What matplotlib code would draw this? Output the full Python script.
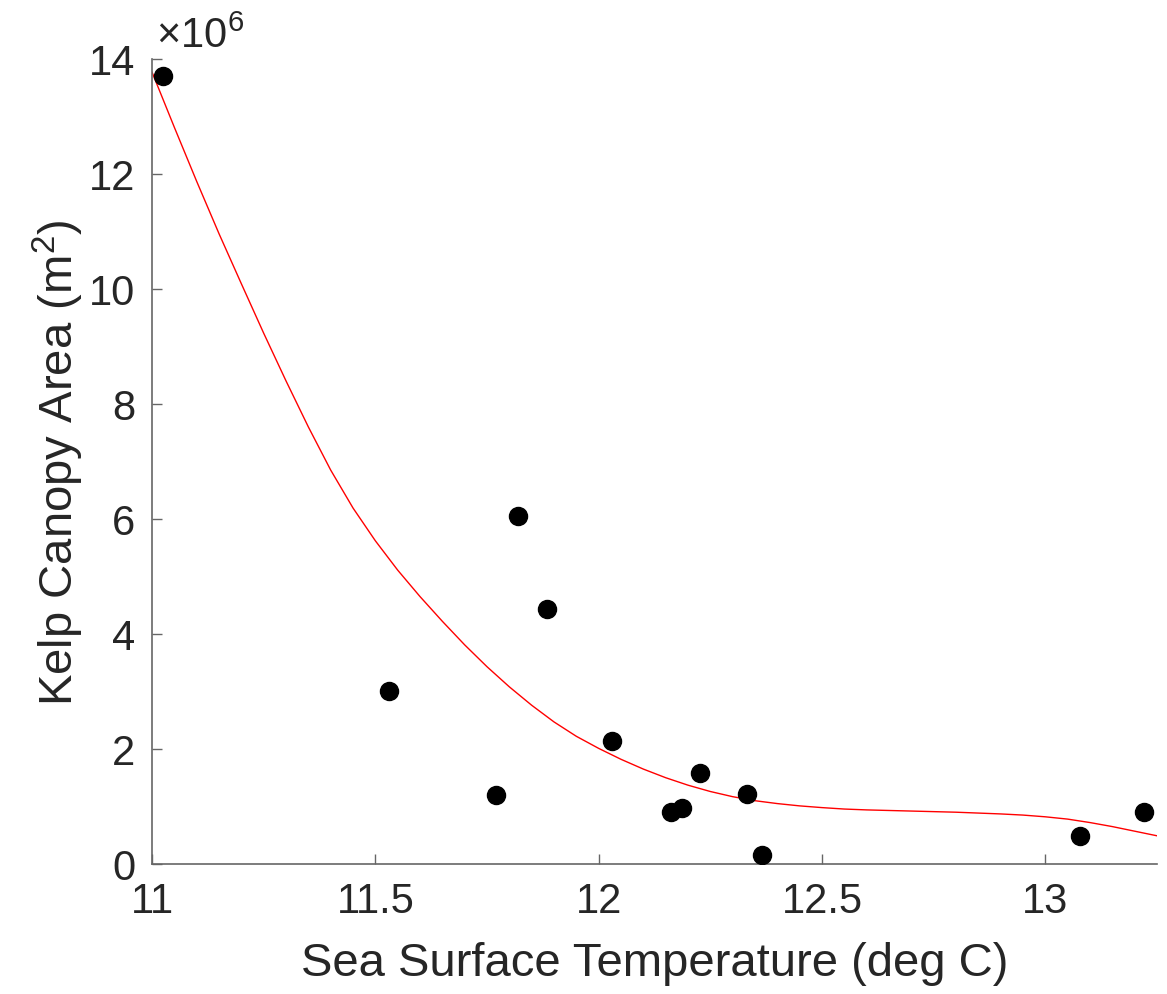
"""Kelp canopy area vs sea surface temperature, with fitted curve."""
import matplotlib
matplotlib.use("Agg")
import matplotlib.pyplot as plt
from matplotlib.ticker import FuncFormatter, MultipleLocator

plt.rcParams["font.family"] = ["Liberation Sans", "DejaVu Sans"]
plt.rcParams["mathtext.fontset"] = "custom"
plt.rcParams["mathtext.rm"] = "Liberation Sans"
plt.rcParams["mathtext.it"] = "Liberation Sans"

# observed points (deg C, m^2)
sst = [11.025, 11.531, 11.770, 11.820, 11.885, 12.030, 12.162, 12.186,
       12.226, 12.331, 12.365, 13.078, 13.220]
kelp_area = [13.71e6, 3.00e6, 1.20e6, 6.06e6, 4.43e6, 2.13e6, 0.91e6, 0.97e6,
             1.59e6, 1.21e6, 0.16e6, 0.49e6, 0.90e6]

# fitted curve
fit_sst = [11.00, 11.05, 11.10, 11.15, 11.20, 11.25, 11.30, 11.35, 11.40, 11.45,
           11.50, 11.55, 11.60, 11.65, 11.70, 11.75, 11.80, 11.85, 11.90, 11.95,
           12.00, 12.05, 12.10, 12.15, 12.20, 12.25, 12.30, 12.35, 12.40, 12.45,
           12.50, 12.55, 12.60, 12.70, 12.80, 12.90, 12.95, 13.00, 13.05, 13.10,
           13.15, 13.20, 13.25]
fit_area = [13.77e6, 12.81e6, 11.87e6, 10.96e6, 10.09e6, 9.23e6, 8.40e6, 7.60e6,
            6.85e6, 6.19e6, 5.62e6, 5.11e6, 4.65e6, 4.22e6, 3.81e6, 3.43e6,
            3.08e6, 2.76e6, 2.47e6, 2.22e6, 2.01e6, 1.82e6, 1.65e6, 1.50e6,
            1.37e6, 1.26e6, 1.17e6, 1.10e6, 1.05e6, 1.01e6, 0.98e6, 0.955e6,
            0.94e6, 0.92e6, 0.90e6, 0.87e6, 0.85e6, 0.82e6, 0.78e6, 0.72e6,
            0.65e6, 0.57e6, 0.49e6]

TEXT = "#262626"
AXIS = "#666666"

fig = plt.figure(figsize=(11.67, 9.95), dpi=100)
ax = fig.add_axes([0.1303, 0.1307, 0.8611, 0.809])

ax.plot(fit_sst, fit_area, color="red", linewidth=1.0, zorder=2)
ax.plot(sst, kelp_area, "o", color="black", markersize=13, zorder=3)

ax.set_xlim(11, 13.25)
ax.set_ylim(0, 14e6)
ax.xaxis.set_major_locator(MultipleLocator(0.5))
ax.yaxis.set_major_locator(MultipleLocator(2e6))
ax.xaxis.set_major_formatter(FuncFormatter(lambda v, p: f"{v:g}"))
ax.yaxis.set_major_formatter(FuncFormatter(lambda v, p: f"{v / 1e6:g}"))
ax.annotate("×10$^{6}$", xy=(0, 1), xycoords="axes fraction",
            xytext=(4, 3), textcoords="offset pixels",
            ha="left", va="bottom", fontsize=30, color=TEXT)

for side in ("top", "right"):
    ax.spines[side].set_visible(False)
for side in ("left", "bottom"):
    ax.spines[side].set_color(AXIS)
    ax.spines[side].set_linewidth(1.2)

ax.tick_params(direction="in", length=7, width=1.0, color=AXIS,
               labelsize=30, labelcolor=TEXT, pad=12)

ax.set_xlabel("Sea Surface Temperature (deg C)", fontsize=34, color=TEXT, labelpad=15)
ax.set_ylabel("Kelp Canopy Area (m$^2$)", fontsize=34, color=TEXT, labelpad=2)

fig.savefig("out.png", dpi=100)
